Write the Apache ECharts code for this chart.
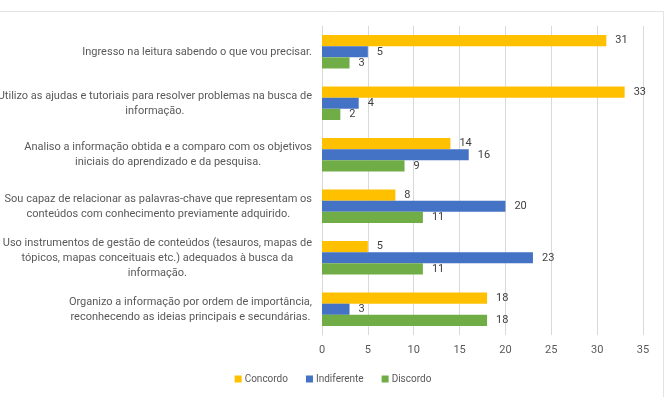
<!DOCTYPE html>
<html>
<head>
<meta charset="utf-8">
<script src="https://cdn.jsdelivr.net/npm/echarts@6/dist/echarts.min.js"></script>
<style>html,body{margin:0;padding:0;background:#fff}#c{width:666px;height:397px}</style>
</head>
<body>
<div id="c"></div>
<script>
var categories = [
  "Ingresso na leitura sabendo o que vou precisar.",
  "Utilizo as ajudas e tutoriais para resolver problemas na busca de\ninformação.",
  "Analiso a informação obtida e a comparo com os objetivos\niniciais do aprendizado e da pesquisa.",
  "Sou capaz de relacionar as palavras-chave que representam os\nconteúdos com conhecimento previamente adquirido.",
  "Uso instrumentos de gestão de conteúdos (tesauros, mapas de\ntópicos, mapas conceituais etc.) adequados à busca da\ninformação.",
  "Organizo a informação por ordem de importância,\nreconhecendo as ideias principais e secundárias."
];
var seriesNames = ["Concordo", "Indiferente", "Discordo"];
var concordo = [31, 33, 14, 8, 5, 18];
var indiferente = [5, 4, 16, 20, 23, 3];
var discordo = [3, 2, 9, 11, 11, 18];
var xTicks = [0, 5, 10, 15, 20, 25, 30, 35];

var colors = ["#FFC000", "#4472C4", "#70AD47"];
var values = [concordo, indiferente, discordo];
var font = "Roboto, 'Liberation Sans', sans-serif";

var chart = echarts.init(document.getElementById('c'), null, {renderer: 'canvas'});
chart.setOption({
  animation: false,
  color: colors,
  graphic: [
    {type: 'line', shape: {x1: 0, y1: 11.5, x2: 663.5, y2: 11.5}, style: {stroke: '#e3e3e3', lineWidth: 1}},
    {type: 'line', shape: {x1: 663.5, y1: 11.5, x2: 663.5, y2: 397}, style: {stroke: '#e3e3e3', lineWidth: 1}}
  ],
  grid: {left: 322, right: 23, top: 26, bottom: 62, containLabel: false, outerBoundsMode: 'none'},
  legend: {
    bottom: 8,
    left: 'center',
    itemWidth: 7, itemHeight: 7, itemGap: 18,
    icon: 'rect',
    textStyle: {color: '#595959', fontSize: 10, fontFamily: font, padding: [0, 0, 0, -2]},
    data: seriesNames
  },
  xAxis: {
    type: 'value', min: xTicks[0], max: xTicks[xTicks.length - 1], interval: 5,
    axisLine: {show: false}, axisTick: {show: false},
    splitLine: {lineStyle: {color: '#d9d9d9'}},
    axisLabel: {color: '#595959', fontSize: 11, fontFamily: font, margin: 10}
  },
  yAxis: {
    type: 'category', data: categories, inverse: true,
    axisLine: {lineStyle: {color: '#d9d9d9'}}, axisTick: {show: false},
    axisLabel: {
      color: '#595959', fontSize: 11, fontFamily: font, margin: 10, lineHeight: 15,
      formatter: function (v) {
        return v.split('\n').map(function (s) { return '{a|' + s + '}'; }).join('\n');
      },
      rich: {a: {align: 'center', color: '#595959', fontSize: 11, fontFamily: font, lineHeight: 15}}
    }
  },
  series: seriesNames.map(function (n, i) {
    return {
      name: n, type: 'bar', data: values[i],
      barGap: '0%', barCategoryGap: '35%',
      label: {show: true, position: 'right', distance: 9, color: '#404040', fontSize: 11, fontFamily: font}
    };
  })
});
</script>
</body>
</html>
